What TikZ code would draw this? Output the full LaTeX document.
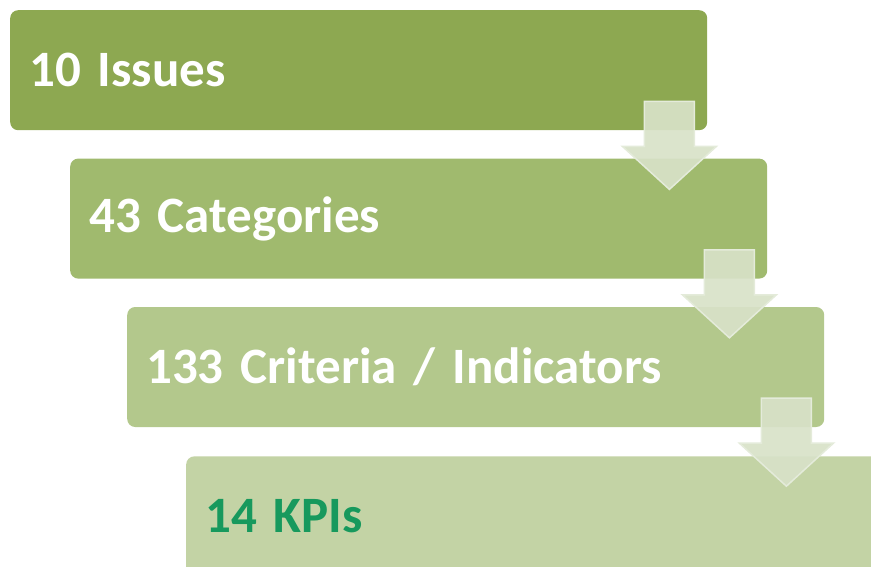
\documentclass[tikz,border=0pt]{standalone}
\usepackage{fontspec}
\setmainfont{Carlito}[WordSpace=0.75]
\usetikzlibrary{positioning,calc}
\definecolor{issuegreen}{HTML}{8DA851}
\definecolor{categorygreen}{HTML}{A0BA6E}
\definecolor{criteriagreen}{HTML}{B3C88C}
\definecolor{kpigreen}{HTML}{C3D3A5}
\definecolor{kpitext}{HTML}{17995D}
\definecolor{arrowfill}{HTML}{D8E2C8}
\definecolor{arrowedge}{HTML}{E4EBDA}
\tikzset{
   stage/.style={rectangle, rounded corners=8pt, anchor=north west,
                 minimum width=697pt, minimum height=120pt, text width=659pt,
                 inner xsep=19pt, align=left, text=white,
                 font=\fontsize{51}{56}\selectfont\bfseries},
   flowarrow/.style={fill=arrowfill, fill opacity=0.92, draw=arrowedge,
                 line width=1.5pt, line join=miter}
}
% down arrow hanging off the lower right corner of a stage
\newcommand{\stagearrow}[1]{%
  \draw[flowarrow] ($(#1.south east)+(-63,-29)$) -- ++(50,0) -- ++(0,45)
     -- ++(22,0) -- ++(-47,43) -- ++(-47,-43) -- ++(22,0) -- cycle;}

\begin{document}
\begin{tikzpicture}[x=1pt, y=-1pt]
\useasboundingbox (0,0) rectangle (871,567);
\clip (0,0) rectangle (871,567);

\node[stage, fill=issuegreen] (issues) at (10,10) {10 Issues};
\node[stage, fill=categorygreen, below right=28pt and 60pt of issues.south west] (categories) {43 Categories};
\node[stage, fill=criteriagreen, below right=28pt and 57pt of categories.south west] (criteria) {133 Criteria / Indicators};
\node[stage, fill=kpigreen, text=kpitext, below right=29pt and 59pt of criteria.south west] (kpis) {14 KPIs};

\stagearrow{issues}
\stagearrow{categories}
\stagearrow{criteria}
\end{tikzpicture}
\end{document}
